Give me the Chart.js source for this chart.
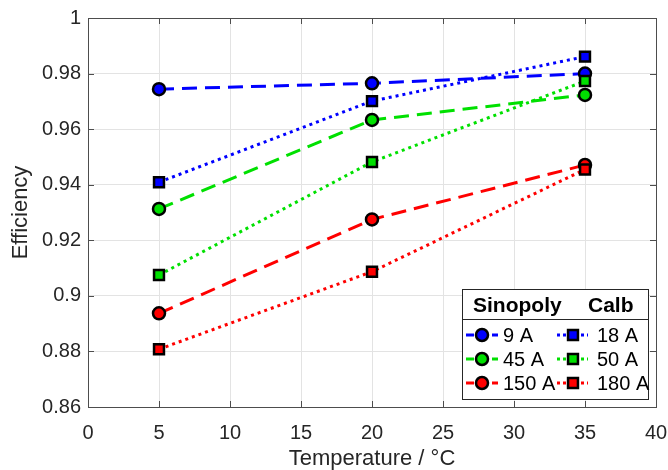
<!DOCTYPE html>
<html>
<head>
<meta charset="utf-8">
<script src="https://cdn.jsdelivr.net/npm/chart.js@4.4.1/dist/chart.umd.min.js"></script>
<style>
  html, body { margin: 0; padding: 0; background: #fff; }
  #wrap { width: 668px; height: 470px; }
</style>
</head>
<body>
<div id="wrap"><canvas id="c" width="668" height="470"></canvas></div>
<script>
// data
var temps = [5, 20, 35];
var xTicks = [0, 5, 10, 15, 20, 25, 30, 35, 40];
var yTicks = [0.86, 0.88, 0.9, 0.92, 0.94, 0.96, 0.98, 1];

var sinopolyLabels = ['9 A', '45 A', '150 A'];
var sinopoly9 = [0.9744, 0.9765, 0.9800];
var sinopoly45 = [0.9313, 0.9633, 0.9723];
var sinopoly150 = [0.8937, 0.9275, 0.9471];

var calbLabels = ['18 A', '50 A', '180 A'];
var calb18 = [0.9409, 0.9701, 0.9861];
var calb50 = [0.9075, 0.9482, 0.9773];
var calb180 = [0.8808, 0.9087, 0.9455];

var legendHeaders = ['Sinopoly', 'Calb'];
var colors = ['#0000ff', '#00e000', '#ff0000'];

function pts(vals) {
  var out = [];
  for (var i = 0; i < temps.length; i++) out.push({x: temps[i], y: vals[i]});
  return out;
}

function sinopolySet(label, vals, col) {
  return {
    label: label, data: pts(vals), order: 1,
    borderColor: col, borderWidth: 3, borderDash: [15, 8],
    pointStyle: 'circle', pointRadius: 6, pointHoverRadius: 6,
    pointBackgroundColor: col, pointBorderColor: '#000', pointBorderWidth: 2.5
  };
}

function calbSet(label, vals, col) {
  return {
    label: label, data: pts(vals), order: 0,
    borderColor: col, borderWidth: 3, borderDash: [3, 4],
    pointStyle: 'rect', pointRadius: 7, pointHoverRadius: 7,
    pointBackgroundColor: col, pointBorderColor: '#000', pointBorderWidth: 2.5
  };
}

var datasets = [
  sinopolySet(sinopolyLabels[0], sinopoly9, colors[0]),
  sinopolySet(sinopolyLabels[1], sinopoly45, colors[1]),
  sinopolySet(sinopolyLabels[2], sinopoly150, colors[2]),
  calbSet(calbLabels[0], calb18, colors[0]),
  calbSet(calbLabels[1], calb50, colors[1]),
  calbSet(calbLabels[2], calb180, colors[2])
];

// box around the axes with inward tick marks (matlab style)
var boxPlugin = {
  id: 'box',
  beforeDatasetsDraw: function(chart) {
    var a = chart.chartArea, ctx = chart.ctx;
    var xs = chart.scales.x, ys = chart.scales.y;
    ctx.save();
    ctx.strokeStyle = '#4d4d4d';
    ctx.lineWidth = 1;
    ctx.beginPath();
    var i, p;
    for (i = 0; i < xTicks.length; i++) {
      p = Math.round(xs.getPixelForValue(xTicks[i])) + 0.5;
      ctx.moveTo(p, a.bottom); ctx.lineTo(p, a.bottom - 6);
      ctx.moveTo(p, a.top); ctx.lineTo(p, a.top + 6);
    }
    for (i = 0; i < yTicks.length; i++) {
      p = Math.round(ys.getPixelForValue(yTicks[i])) + 0.5;
      ctx.moveTo(a.left, p); ctx.lineTo(a.left + 6, p);
      ctx.moveTo(a.right, p); ctx.lineTo(a.right - 6, p);
    }
    ctx.stroke();
    ctx.strokeRect(Math.round(a.left) + 0.5, Math.round(a.top) + 0.5,
      Math.round(a.right - a.left), Math.round(a.bottom - a.top));
    ctx.restore();
  }
};

// two column legend in the lower right corner
var legendPlugin = {
  id: 'twoColLegend',
  afterDatasetsDraw: function(chart) {
    var ctx = chart.ctx;
    var bx = 462, by = 289, bw = 186, bh = 110;
    ctx.save();
    ctx.fillStyle = '#fff';
    ctx.fillRect(bx, by, bw, bh);
    ctx.strokeStyle = '#262626';
    ctx.lineWidth = 1;
    ctx.strokeRect(bx + 0.5, by + 0.5, bw, bh);
    ctx.beginPath();
    ctx.moveTo(bx, by + 30.5); ctx.lineTo(bx + bw, by + 30.5);
    ctx.stroke();

    ctx.fillStyle = '#000';
    ctx.textBaseline = 'middle';
    ctx.textAlign = 'left';
    ctx.font = 'bold 21px "Liberation Sans", Arial, sans-serif';
    ctx.fillText(legendHeaders[0], 473, by + 17);
    ctx.fillText(legendHeaders[1], 588, by + 17);

    ctx.font = '20px "Liberation Sans", Arial, sans-serif';
    var cols = [{x0: 466, x1: 498, mx: 482, tx: 503}, {x0: 557, x1: 588, mx: 573, tx: 597}];
    var rowsY = [335, 359, 383];
    for (var c = 0; c < 2; c++) {
      for (var r = 0; r < 3; r++) {
        var ds = chart.data.datasets[c * 3 + r];
        var y = rowsY[r], col = cols[c];
        ctx.strokeStyle = ds.borderColor;
        ctx.lineWidth = 3;
        ctx.setLineDash(c === 0 ? [8, 5] : [3, 3]);
        ctx.beginPath();
        ctx.moveTo(col.x0, y); ctx.lineTo(col.x1, y);
        ctx.stroke();
        ctx.setLineDash([]);
        ctx.fillStyle = ds.pointBackgroundColor;
        ctx.strokeStyle = '#000';
        ctx.lineWidth = ds.pointBorderWidth;
        ctx.beginPath();
        if (ds.pointStyle === 'circle') {
          ctx.arc(col.mx, y, ds.pointRadius, 0, Math.PI * 2);
        } else {
          var h = ds.pointRadius * Math.SQRT1_2;
          ctx.rect(col.mx - h, y - h, 2 * h, 2 * h);
        }
        ctx.fill();
        ctx.stroke();
        ctx.fillStyle = '#000';
        ctx.fillText(ds.label, col.tx, y + 1);
      }
    }
    ctx.restore();
  }
};

var tickFont = {family: '"Liberation Sans", Arial, sans-serif', size: 20};
var titleFont = {family: '"Liberation Sans", Arial, sans-serif', size: 22};

new Chart(document.getElementById('c'), {
  type: 'line',
  data: {datasets: datasets},
  options: {
    responsive: false,
    animation: false,
    events: [],
    layout: {padding: {top: 18, right: 12, left: 0, bottom: 0}},
    plugins: {legend: {display: false}, tooltip: {enabled: false}},
    scales: {
      x: {
        type: 'linear', min: 0, max: 40,
        afterFit: function(s) { s.height = 63; s.paddingLeft = 0; s.paddingRight = 0; },
        afterBuildTicks: function(s) { s.ticks = xTicks.map(function(v) { return {value: v}; }); },
        grid: {color: '#e3e3e3', drawTicks: false},
        border: {display: false},
        ticks: {font: tickFont, color: '#262626', padding: 14, maxRotation: 0},
        title: {display: true, text: 'Temperature / °C', font: titleFont, color: '#262626', padding: {top: 0, bottom: -2}}
      },
      y: {
        type: 'linear', min: 0.86, max: 1,
        afterFit: function(s) { s.width = 88; s.paddingTop = 0; s.paddingBottom = 0; },
        afterBuildTicks: function(s) { s.ticks = yTicks.map(function(v) { return {value: v}; }); },
        grid: {color: '#e3e3e3', drawTicks: false},
        border: {display: false},
        ticks: {font: tickFont, color: '#262626', padding: 7,
          callback: function(v) { return String(Math.round(v * 100) / 100); }},
        title: {display: true, text: 'Efficiency', font: titleFont, color: '#262626', padding: {top: 8, bottom: 0}}
      }
    }
  },
  plugins: [boxPlugin, legendPlugin]
});
</script>
</body>
</html>
